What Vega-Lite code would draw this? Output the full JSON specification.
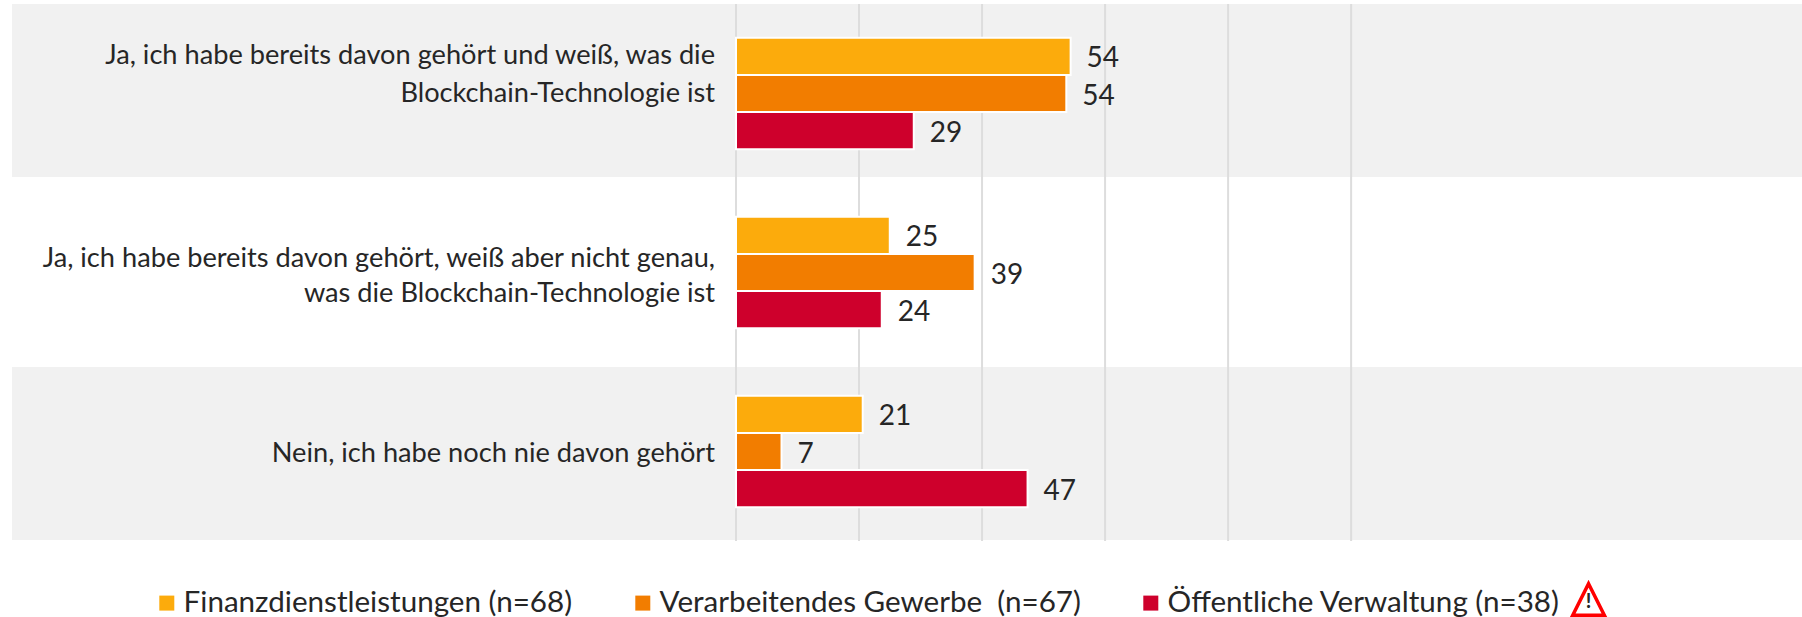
{
"$schema":"https://vega.github.io/schema/vega-lite/v6.json",
"width":1790,"height":537,
"autosize":{"type":"none"},
"padding":{"left":12,"top":4,"right":0,"bottom":76},
"background":"white",
"config":{"view":{"stroke":null},"font":"Lato"},
"datasets":{
"rows":[
{"antwort":"Ja, ich habe bereits davon gehört und weiß, was die\nBlockchain-Technologie ist","branche":"Finanzdienstleistungen (n=68)","wert":54.4},
{"antwort":"Ja, ich habe bereits davon gehört und weiß, was die\nBlockchain-Technologie ist","branche":"Verarbeitendes Gewerbe \u00a0(n=67)","wert":53.7},
{"antwort":"Ja, ich habe bereits davon gehört und weiß, was die\nBlockchain-Technologie ist","branche":"Öffentliche Verwaltung (n=38)","wert":28.9},
{"antwort":"Ja, ich habe bereits davon gehört, weiß aber nicht genau,\nwas die Blockchain-Technologie ist","branche":"Finanzdienstleistungen (n=68)","wert":25.0},
{"antwort":"Ja, ich habe bereits davon gehört, weiß aber nicht genau,\nwas die Blockchain-Technologie ist","branche":"Verarbeitendes Gewerbe \u00a0(n=67)","wert":38.8},
{"antwort":"Ja, ich habe bereits davon gehört, weiß aber nicht genau,\nwas die Blockchain-Technologie ist","branche":"Öffentliche Verwaltung (n=38)","wert":23.7},
{"antwort":"Nein, ich habe noch nie davon gehört","branche":"Finanzdienstleistungen (n=68)","wert":20.6},
{"antwort":"Nein, ich habe noch nie davon gehört","branche":"Verarbeitendes Gewerbe \u00a0(n=67)","wert":7.4},
{"antwort":"Nein, ich habe noch nie davon gehört","branche":"Öffentliche Verwaltung (n=38)","wert":47.4}
],
"a1":[{"antwort":"Ja, ich habe bereits davon gehört und weiß, was die\nBlockchain-Technologie ist"}],
"a2":[{"antwort":"Ja, ich habe bereits davon gehört, weiß aber nicht genau,\nwas die Blockchain-Technologie ist"}],
"a3":[{"antwort":"Nein, ich habe noch nie davon gehört"}],
"stripes":[{"streifen":"a"},{"streifen":"c"}],
"ticks":[{"t":0},{"t":20},{"t":40},{"t":60},{"t":80},{"t":100}],
"warn":[{"wert":138.6,"antwort":"Nein, ich habe noch nie davon gehört","zeichen":"!"}]
},
"layer":[
{"data":{"name":"stripes"},
 "mark":{"type":"rect","color":"#F1F1F1"},
 "encoding":{
  "y":{"field":"streifen","type":"nominal","axis":null,"scale":{"domain":["a","b","c"],"range":[0,536],"paddingInner":0.0468,"paddingOuter":0}},
  "x":{"datum":-117.7,"type":"quantitative","scale":{"domain":[-117.7,173.3],"nice":false,"zero":false},"axis":null},
  "x2":{"datum":173.3}
 }},
{"layer":[
 {"data":{"name":"ticks"},
  "mark":{"type":"rule","color":"#DDDDDD","strokeWidth":2},
  "encoding":{"x":{"field":"t","type":"quantitative","scale":{"domain":[-117.7,173.3],"nice":false,"zero":false},"axis":null}}},
 {"data":{"name":"rows"},
  "mark":{"type":"bar","stroke":"white","strokeWidth":2},
  "encoding":{
   "y":{"field":"antwort","type":"nominal","axis":null,"sort":null,"scale":{"paddingInner":0.376,"paddingOuter":0.188}},
   "yOffset":{"field":"branche","type":"nominal","sort":["Finanzdienstleistungen (n=68)","Verarbeitendes Gewerbe \u00a0(n=67)","Öffentliche Verwaltung (n=38)"],"scale":{"paddingInner":0,"paddingOuter":0}},
   "x":{"field":"wert","type":"quantitative"},
   "color":{"field":"branche","type":"nominal","sort":null,
    "scale":{"domain":["Finanzdienstleistungen (n=68)","Verarbeitendes Gewerbe \u00a0(n=67)","Öffentliche Verwaltung (n=38)"],"range":["#FCAB0C","#F27D00","#CE002C"]},
    "legend":{"title":null,"orient":"none","legendX":140,"legendY":584,"direction":"horizontal","columns":3,"symbolType":"square","symbolSize":225,"symbolStrokeWidth":0,"labelFontSize":29.6,"labelFont":"Lato","labelColor":"#262626","labelLimit":600,"columnPadding":55,"labelOffset":2}}
  }},
 {"data":{"name":"rows"},
  "mark":{"type":"text","align":"left","baseline":"middle","dx":16,"dy":3,"fontSize":28,"color":"#262626"},
  "encoding":{
   "y":{"field":"antwort","type":"nominal","axis":null,"sort":null},
   "yOffset":{"field":"branche","type":"nominal","sort":["Finanzdienstleistungen (n=68)","Verarbeitendes Gewerbe \u00a0(n=67)","Öffentliche Verwaltung (n=38)"]},
   "x":{"field":"wert","type":"quantitative"},
   "text":{"field":"wert","type":"quantitative","format":".0f"}
  }},
 {"data":{"name":"a1"},
  "mark":{"type":"text","align":"right","baseline":"middle","dx":-21,"dy":-38,"fontSize":27.2,"lineBreak":"\n","lineHeight":38,"color":"#262626"},
  "encoding":{
   "y":{"field":"antwort","type":"nominal","axis":null,"sort":null},
   "x":{"datum":0,"type":"quantitative"},
   "text":{"field":"antwort","type":"nominal"}
  }},
 {"data":{"name":"a2"},
  "mark":{"type":"text","align":"right","baseline":"middle","dx":-21,"dy":-14,"fontSize":27.2,"lineBreak":"\n","lineHeight":35,"color":"#262626"},
  "encoding":{
   "y":{"field":"antwort","type":"nominal","axis":null,"sort":null},
   "x":{"datum":0,"type":"quantitative"},
   "text":{"field":"antwort","type":"nominal"}
  }},
 {"data":{"name":"a3"},
  "mark":{"type":"text","align":"right","baseline":"middle","dx":-21,"dy":2,"fontSize":27.2,"color":"#262626"},
  "encoding":{
   "y":{"field":"antwort","type":"nominal","axis":null,"sort":null},
   "x":{"datum":0,"type":"quantitative"},
   "text":{"field":"antwort","type":"nominal"}
  }},
 {"data":{"name":"warn"},
  "mark":{"type":"point","shape":"M0,-1L1,1L-1,1Z","size":1000,"filled":false,"stroke":"#FF0000","strokeWidth":3.5,"opacity":1,"clip":false,"yOffset":148},
  "encoding":{
   "y":{"field":"antwort","type":"nominal","axis":null,"sort":null},
   "x":{"field":"wert","type":"quantitative"}
  }},
 {"data":{"name":"warn"},
  "mark":{"type":"text","align":"center","baseline":"middle","fontSize":20,"fontWeight":"bold","color":"#262626","dy":150},
  "encoding":{
   "y":{"field":"antwort","type":"nominal","axis":null,"sort":null},
   "x":{"field":"wert","type":"quantitative"},
   "text":{"field":"zeichen","type":"nominal"}
  }}
 ]}
],
"resolve":{"scale":{"y":"independent"}}
}
